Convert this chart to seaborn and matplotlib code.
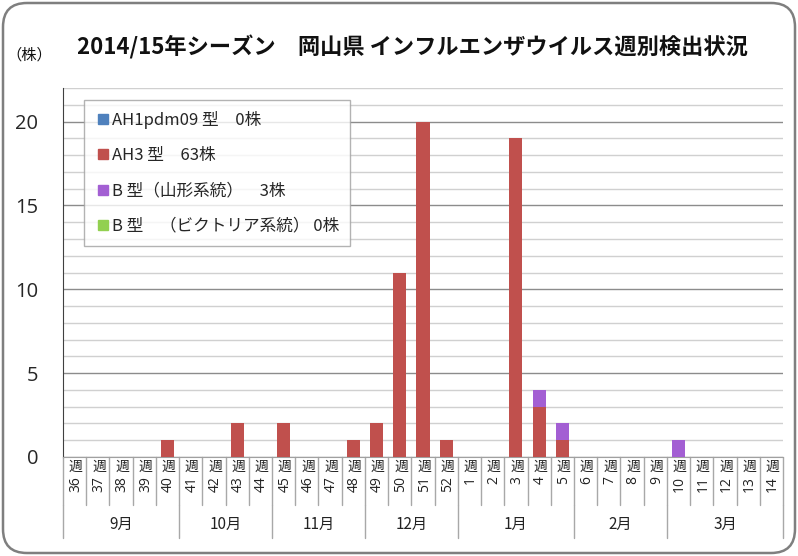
import matplotlib
matplotlib.use("Agg")
import matplotlib.pyplot as plt
import seaborn as sns
import numpy as np
import pandas as pd
from matplotlib.patches import FancyBboxPatch
from matplotlib.lines import Line2D
import matplotlib.transforms as mtrans

# ---- data ----
weeks = ["36", "37", "38", "39", "40", "41", "42", "43", "44", "45", "46", "47", "48",
         "49", "50", "51", "52", "1", "2", "3", "4", "5", "6", "7", "8", "9",
         "10", "11", "12", "13", "14"]
ah1pdm09 = [0] * 31
ah3 = [0, 0, 0, 0, 1, 0, 0, 2, 0, 2, 0, 0, 1, 2, 11, 20, 1, 0, 0, 19, 3, 1,
       0, 0, 0, 0, 0, 0, 0, 0, 0]
b_yamagata = [0] * 20 + [1, 1, 0, 0, 0, 0, 1, 0, 0, 0, 0]
b_victoria = [0] * 31
months = ["9月", "10月", "11月", "12月", "1月", "2月", "3月"]
month_weeks = [5, 4, 4, 4, 5, 4, 5]
legend_labels = ["AH1pdm09 型　0株", "AH3 型　63株", "B 型（山形系統）　3株",
                 "B 型　（ビクトリア系統） 0株"]
title = "2014/15年シーズン　岡山県 インフルエンザウイルス週別検出状況"
ylabel = "（株）"

colors = ["#4F81BD", "#C0504D", "#A35FD3", "#92D050"]

sns.set_style("white")
plt.rcParams["font.family"] = ["Noto Sans CJK JP", "DejaVu Sans"]

fig = plt.figure(figsize=(7.98, 5.56), dpi=100)
W, H = 798, 556
x0, x1, yb, yt = 63, 783, 457, 88
ax = fig.add_axes([x0 / W, 1 - yb / H, (x1 - x0) / W, (yb - yt) / H])

df = pd.DataFrame({"week": weeks, "ah1": ah1pdm09, "ah3": ah3,
                   "byam": b_yamagata, "bvic": b_victoria})
df["c1"] = df["ah1"]
df["c2"] = df["c1"] + df["ah3"]
df["c3"] = df["c2"] + df["byam"]
df["c4"] = df["c3"] + df["bvic"]

for col, c in zip(["c4", "c3", "c2", "c1"], colors[::-1]):
    sns.barplot(data=df, x="week", y=col, order=weeks, color=c, width=0.56,
                saturation=1, ax=ax, zorder=3, edgecolor="none")

ax.set_xlim(-0.5, len(weeks) - 0.5)
ax.set_ylim(0, 22)
ax.set_yticks([0, 5, 10, 15, 20])
ax.set_yticks(np.arange(0, 23, 1), minor=True)
ax.grid(axis="y", which="minor", color="#d0d0d0", lw=1, zorder=0)
ax.grid(axis="y", which="major", color="#8c8c8c", lw=1, zorder=0)
ax.set_xticks([])
ax.set_xlabel("")
ax.set_ylabel("")
for s in ["top", "right"]:
    ax.spines[s].set_visible(False)
ax.spines["left"].set_color("#404040")
ax.spines["bottom"].set_color("#a0a0a0")
ax.tick_params(axis="y", which="major", direction="out", length=8, width=1,
               color="#404040", labelsize=14.5, pad=10)
ax.tick_params(axis="y", which="minor", length=0)
for lbl in ax.get_yticklabels():
    lbl.set_fontfamily(["Open Sans", "DejaVu Sans"])

# table-like x axis
tr = mtrans.blended_transform_factory(ax.transData, fig.transFigure)
def fy(py):
    return 1 - py / H
for i in range(len(weeks) + 1):
    ax.plot([i - 0.5, i - 0.5], [fy(yb), fy(505)], transform=tr, color="#a8a8a8",
            lw=1, clip_on=False)
for i, w in enumerate(weeks):
    ax.text(i + 0.05, fy(467), "週", transform=tr, ha="center", va="center",
            fontsize=10, color="#222222")
    ax.text(i + 0.05, fy(476), w, transform=tr, ha="center", va="top",
            rotation=90, fontsize=10, color="#222222",
            family=["Open Sans", "DejaVu Sans"])
bounds = np.concatenate([[0], np.cumsum(month_weeks)])
for b in bounds:
    ax.plot([b - 0.5, b - 0.5], [fy(505), fy(538)], transform=tr, color="#a8a8a8",
            lw=1, clip_on=False)
for m, a, b in zip(months, bounds[:-1], bounds[1:]):
    ax.text((a + b) / 2 - 0.5, fy(524), m, transform=tr, ha="center",
            va="center", fontsize=11, color="#222222")

# legend
handles = [Line2D([], [], marker="s", ls="none", color=c, markersize=6.5)
           for c in colors]
leg = ax.legend(handles, legend_labels, loc="upper left",
                bbox_to_anchor=((84 - x0) / (x1 - x0), (yb - 100) / (yb - yt)),
                frameon=True, fancybox=False, edgecolor="#a0a0a0",
                fontsize=12, handletextpad=0.05, labelspacing=1.1,
                borderpad=0.65, handlelength=1.0, borderaxespad=0)
leg.get_frame().set_linewidth(1)
leg.set_zorder(5)

# title & unit
fig.text(412 / W, fy(47), title, ha="center", va="center", fontsize=16,
         fontweight="bold", color="#111111")
fig.text(6 / W, fy(55), ylabel, ha="left", va="center", fontsize=11,
         color="#111111")

# outer frame
frame = FancyBboxPatch((3 / W, 3 / H), 792 / W, 550 / H,
                       boxstyle="round,pad=0,rounding_size=0.03",
                       transform=fig.transFigure, fill=False,
                       edgecolor="#7f7f7f", lw=1.8, mutation_aspect=W / H)
fig.patches.append(frame)

fig.savefig("out.png", dpi=100)
